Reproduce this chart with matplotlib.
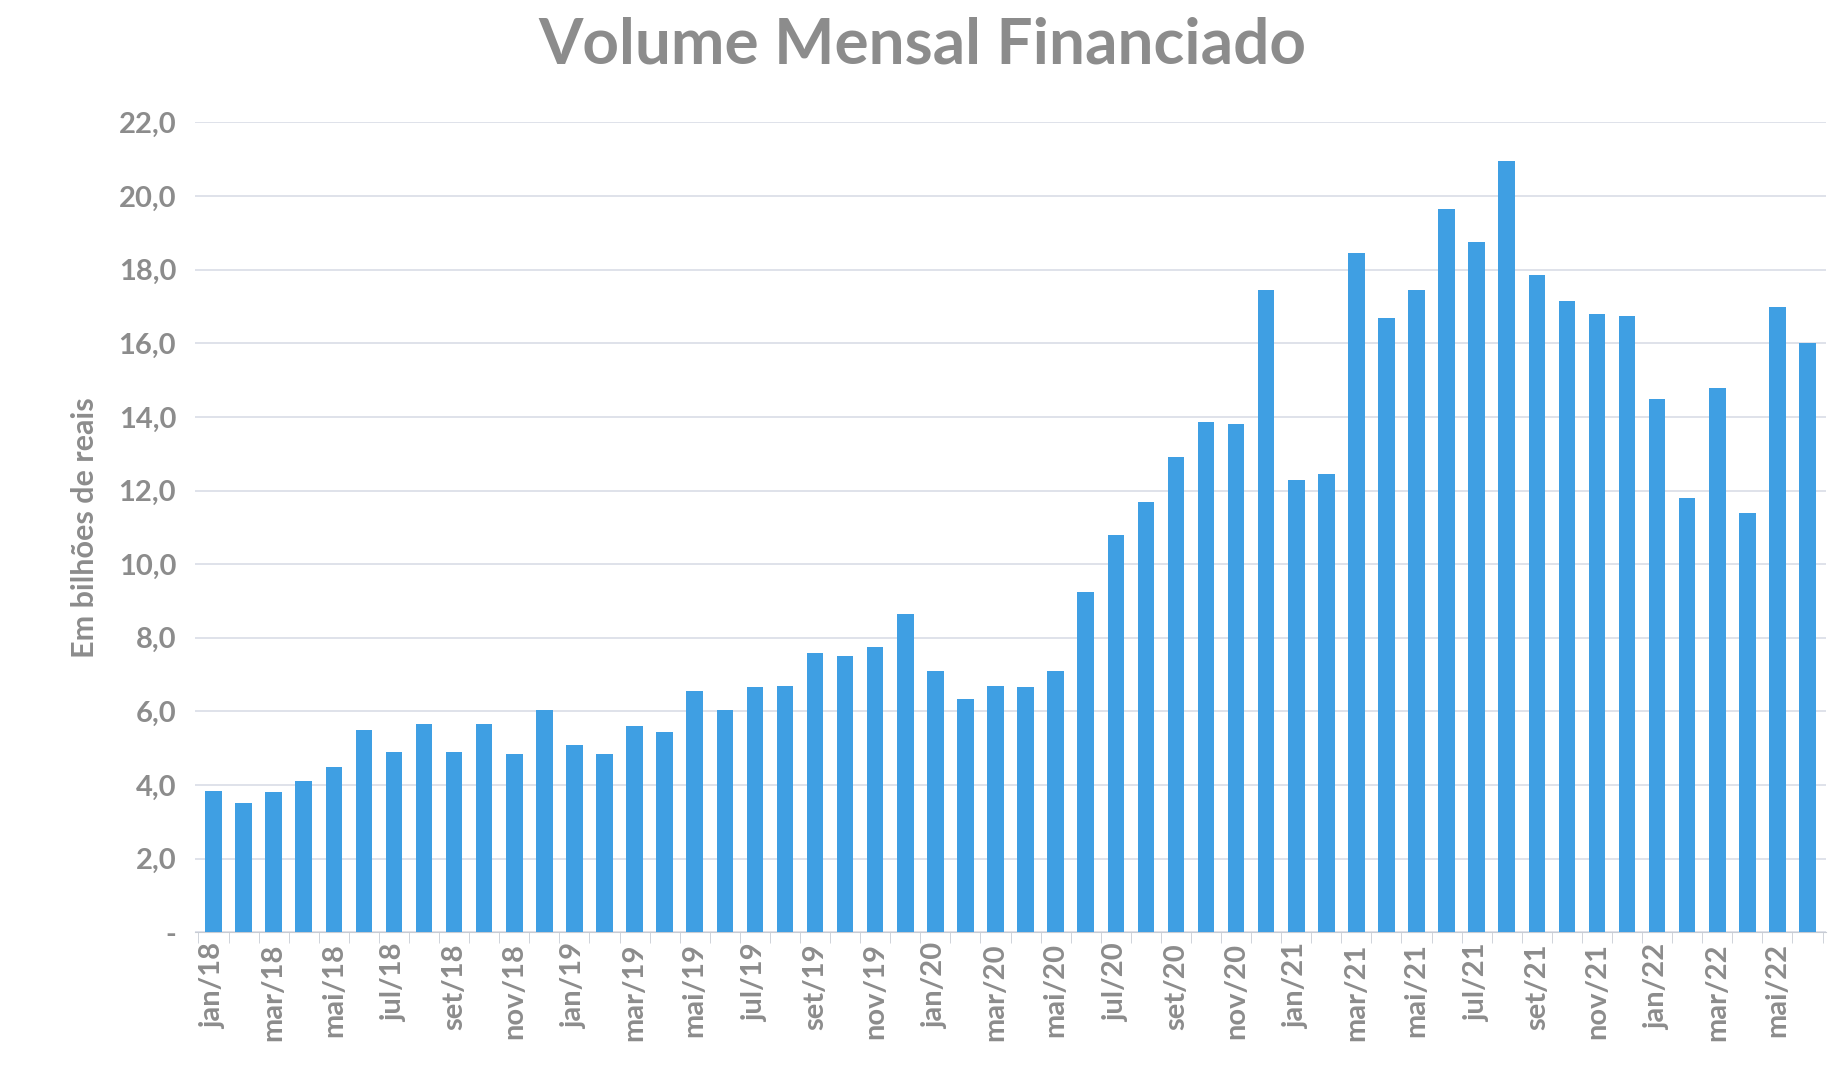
import matplotlib
matplotlib.use("Agg")
import matplotlib.pyplot as plt
from matplotlib.ticker import FuncFormatter

months = ["jan","fev","mar","abr","mai","jun","jul","ago","set","out","nov","dez"]
labels = [f"{m}/{y}" for y in ["18","19","20","21","22"] for m in months][:54]
values = [3.85,3.5,3.8,4.1,4.5,5.5,4.9,5.65,4.9,5.65,4.85,6.05,
          5.1,4.85,5.6,5.45,6.55,6.05,6.65,6.7,7.6,7.5,7.75,8.65,
          7.1,6.35,6.7,6.65,7.1,9.25,10.8,11.7,12.9,13.85,13.8,17.45,
          12.3,12.45,18.45,16.7,17.45,19.65,18.75,20.95,17.85,17.15,16.8,16.75,
          14.5,11.8,14.8,11.4,17.0,16.0]

grey = "#8c8c8c"
plt.rcParams["font.family"] = "Lato"
fig = plt.figure(figsize=(18.44, 10.84), dpi=100)
ax = fig.add_axes([0.106, 0.14, 0.884, 0.747])
x = range(len(values))
ax.bar(x, values, width=0.55, color="#3f9fe3", zorder=3)
ax.set_xlim(-0.6, len(values) - 0.4)
ax.set_ylim(0, 22)
ax.set_yticks(range(0, 23, 2))
ax.yaxis.set_major_formatter(FuncFormatter(lambda v, p: "-" if v == 0 else f"{v:.1f}".replace(".", ",")))
ax.grid(axis="y", color="#d9dde6", linewidth=1.2, zorder=0)
ax.set_xticks(list(x)[::2])
ax.set_xticklabels(labels[::2], rotation=90)
ax.set_xticks([i - 0.5 for i in range(len(values) + 1)], minor=True)
ax.tick_params(axis="x", which="major", length=0, pad=8)
ax.tick_params(axis="x", which="minor", length=8, color="#c8ccd4")
ax.tick_params(axis="y", length=0, pad=14)
for t in ax.get_xticklabels() + ax.get_yticklabels():
    t.set_color(grey); t.set_fontsize(21); t.set_fontweight("bold")
for s in ["top", "right", "left"]:
    ax.spines[s].set_visible(False)
ax.spines["bottom"].set_color("#c8ccd4")
ax.set_ylabel("Em bilhões de reais", color=grey, fontsize=22, fontweight="bold", labelpad=14)
fig.suptitle("Volume Mensal Financiado", color=grey, fontsize=46, fontweight="bold", y=0.985)
fig.savefig("out.png")
